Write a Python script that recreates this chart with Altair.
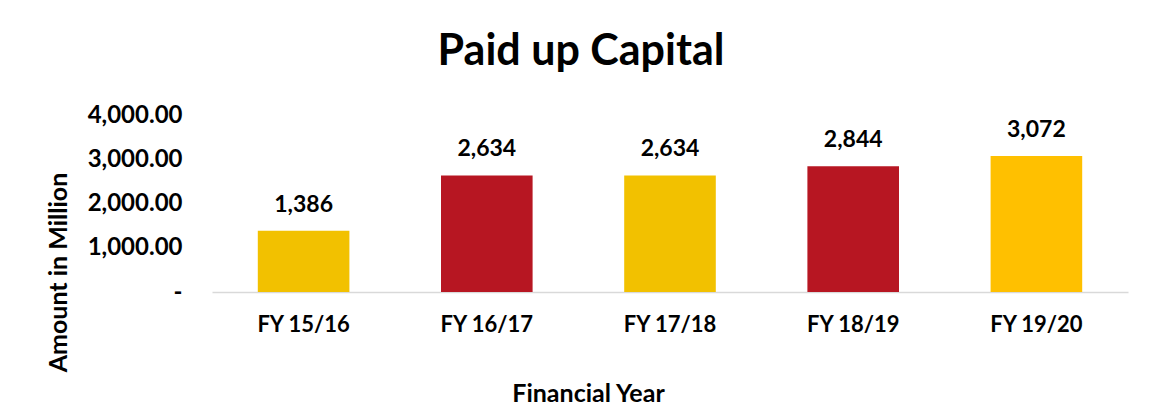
import altair as alt
import pandas as pd

years = ["FY 15/16", "FY 16/17", "FY 17/18", "FY 18/19", "FY 19/20"]
capital = [1386, 2634, 2634, 2844, 3072]
bar_colors = ["#F2C100", "#B71622", "#F2C100", "#B71622", "#FFC000"]
y_ticks = [0, 1000, 2000, 3000, 4000]

df = pd.DataFrame({"year": years, "capital": capital})

FONT = "Lato"

x = alt.X(
    "year:N",
    sort=years,
    scale=alt.Scale(paddingInner=0.5, paddingOuter=0.25),
    axis=alt.Axis(
        title="Financial Year",
        titleFont=FONT, titleFontSize=25, titleFontWeight="bold", titleColor="#000000",
        titleX=376, titleY=101, titleBaseline="middle", titleAlign="center",
        labelFont=FONT, labelFontSize=22, labelFontWeight="bold", labelColor="#000000",
        labelAngle=0, labelPadding=22,
        ticks=False, domainColor="#D9D9D9", domainWidth=1.5, grid=False,
    ),
)
y = alt.Y(
    "capital:Q",
    scale=alt.Scale(domain=[0, 4000]),
    axis=alt.Axis(
        title="Amount in Million",
        titleFont=FONT, titleFontSize=25, titleFontWeight="bold", titleColor="#000000",
        titleX=-154, titleY=157, titleBaseline="middle", titleAlign="center", titleAngle=-90,
        values=y_ticks,
        labelExpr="datum.value == 0 ? '-\u2007\u2007' : format(datum.value, ',.2f')",
        labelFont=FONT, labelFontSize=24, labelFontWeight="bold", labelColor="#000000",
        labelPadding=30, ticks=False, domain=False, grid=False,
    ),
)

bars = alt.Chart(df).mark_bar().encode(
    x=x,
    y=y,
    color=alt.Color("year:N", sort=years, scale=alt.Scale(domain=years, range=bar_colors), legend=None),
)

labels = alt.Chart(df).mark_text(
    font=FONT, fontSize=23, fontWeight="bold", color="#000000", baseline="middle", dy=-26
).encode(
    x=alt.X("year:N", sort=years),
    y=alt.Y("capital:Q"),
    text=alt.Text("capital:Q", format=",.0f"),
)

one = pd.DataFrame({"f": [1]})
left_edge = alt.Chart(one).mark_rule(color="#DCE3EA", strokeWidth=2).encode(
    x=alt.value(-205), y=alt.value(-4), y2=alt.value(200)
)

chart = alt.layer(bars, labels, left_edge).properties(
    width=916,
    height=177,
    padding={"left": 204, "top": 107, "right": 20, "bottom": 114},
    autosize=alt.AutoSizeParams(type="none"),
    background="#FFFFFF",
    title=alt.TitleParams(
        "Paid up Capital", font=FONT, fontSize=43, fontWeight="bold", color="#000000",
        anchor="middle", dx=-89, offset=29,
    ),
).configure_view(strokeWidth=0)

chart.save("out.html", embed_options={"renderer": "svg", "actions": False})
